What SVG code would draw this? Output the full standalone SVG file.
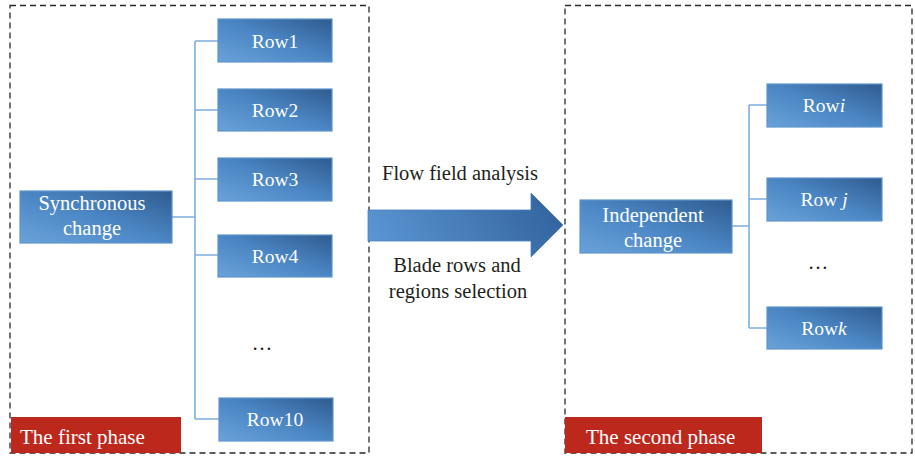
<svg xmlns="http://www.w3.org/2000/svg" width="915" height="458" viewBox="0 0 915 458">
<defs>
<linearGradient id="boxg" x1="0" y1="1" x2="1" y2="0">
<stop offset="0" stop-color="#6aa2da"/>
<stop offset="0.5" stop-color="#4b86c4"/>
<stop offset="1" stop-color="#2f5b8f"/>
</linearGradient>
<linearGradient id="arrg" x1="0" y1="0.6" x2="1" y2="0.4">
<stop offset="0" stop-color="#5a95d2"/>
<stop offset="1" stop-color="#33649e"/>
</linearGradient>
</defs>
<style>
.frame{fill:none;stroke:#2a2a2a;stroke-width:1.3;stroke-dasharray:6,4}
.box{fill:url(#boxg);stroke:#5f94cc;stroke-width:1.2}
.bt{font-family:"Liberation Serif",serif;font-size:20.5px;fill:#fff;text-anchor:middle}
.rt{font-family:"Liberation Serif",serif;font-size:19.5px;fill:#fff;text-anchor:middle}
.lt{font-family:"Liberation Serif",serif;font-size:20.5px;fill:#231f20;text-anchor:middle}
.ph{font-family:"Liberation Serif",serif;font-size:21px;fill:#fff}
.tag{fill:#bd281d}
.con{fill:none;stroke:#7eaedd;stroke-width:1.6}
</style>
<g id="phase1-frame">
<rect class="frame" x="10" y="5.5" width="359" height="447.5"/>
<rect class="tag" x="11" y="417" width="170" height="36"/>
<text class="ph" x="20" y="444">The first phase</text>
</g>
<g id="phase2-frame">
<rect class="frame" x="565" y="5.5" width="347" height="447.5"/>
<rect class="tag" x="565" y="417" width="197" height="36"/>
<text class="ph" x="586" y="444">The second phase</text>
</g>
<g id="connectors">
<path class="con" d="M172 217H195M195 41V419M195 41H218M195 110H218M195 179H218M195 255H218M195 419H219"/>
<path class="con" d="M732 226H749M749 105V328M749 105H767M749 199H767M749 328H767"/>
</g>
<g id="sync">
<rect class="box" x="20" y="191" width="152" height="52"/>
<text class="bt" x="92" y="209.5">Synchronous</text>
<text class="bt" x="92" y="234.5">change</text>
</g>
<g id="row1"><rect class="box" x="218" y="19" width="114" height="43"/><text class="rt" x="275" y="47.5">Row1</text></g>
<g id="row2"><rect class="box" x="218" y="89" width="114" height="42"/><text class="rt" x="275" y="116.5">Row2</text></g>
<g id="row3"><rect class="box" x="218" y="158" width="114" height="43"/><text class="rt" x="275" y="186">Row3</text></g>
<g id="row4"><rect class="box" x="218" y="235" width="114" height="42"/><text class="rt" x="275" y="262.5">Row4</text></g>
<g id="dots1"><text class="lt" x="262" y="350">…</text></g>
<g id="row10"><rect class="box" x="219" y="398" width="114" height="43"/><text class="rt" x="275" y="426">Row10</text></g>
<g id="arrow">
<path d="M368 210H531V193L563 225L531 257V241H368Z" fill="url(#arrg)" stroke="#4a80bb" stroke-width="0.8"/>
<text class="lt" x="460" y="180">Flow field analysis</text>
<text class="lt" x="457" y="272">Blade rows and</text>
<text class="lt" x="458" y="298">regions selection</text>
</g>
<g id="indep">
<rect class="box" x="580" y="200" width="152" height="53"/>
<text class="bt" x="653" y="221.5">Independent</text>
<text class="bt" x="653" y="246.5">change</text>
</g>
<g id="rowi"><rect class="box" x="767" y="84" width="115" height="43"/><text class="rt" x="824" y="112">Row<tspan font-style="italic">i</tspan></text></g>
<g id="rowj"><rect class="box" x="767" y="178" width="115" height="43"/><text class="rt" x="824" y="206">Row <tspan font-style="italic">j</tspan></text></g>
<g id="dots2"><text class="lt" x="818" y="269">…</text></g>
<g id="rowk"><rect class="box" x="767" y="307" width="115" height="42"/><text class="rt" x="824" y="334.5">Row<tspan font-style="italic">k</tspan></text></g>
</svg>
